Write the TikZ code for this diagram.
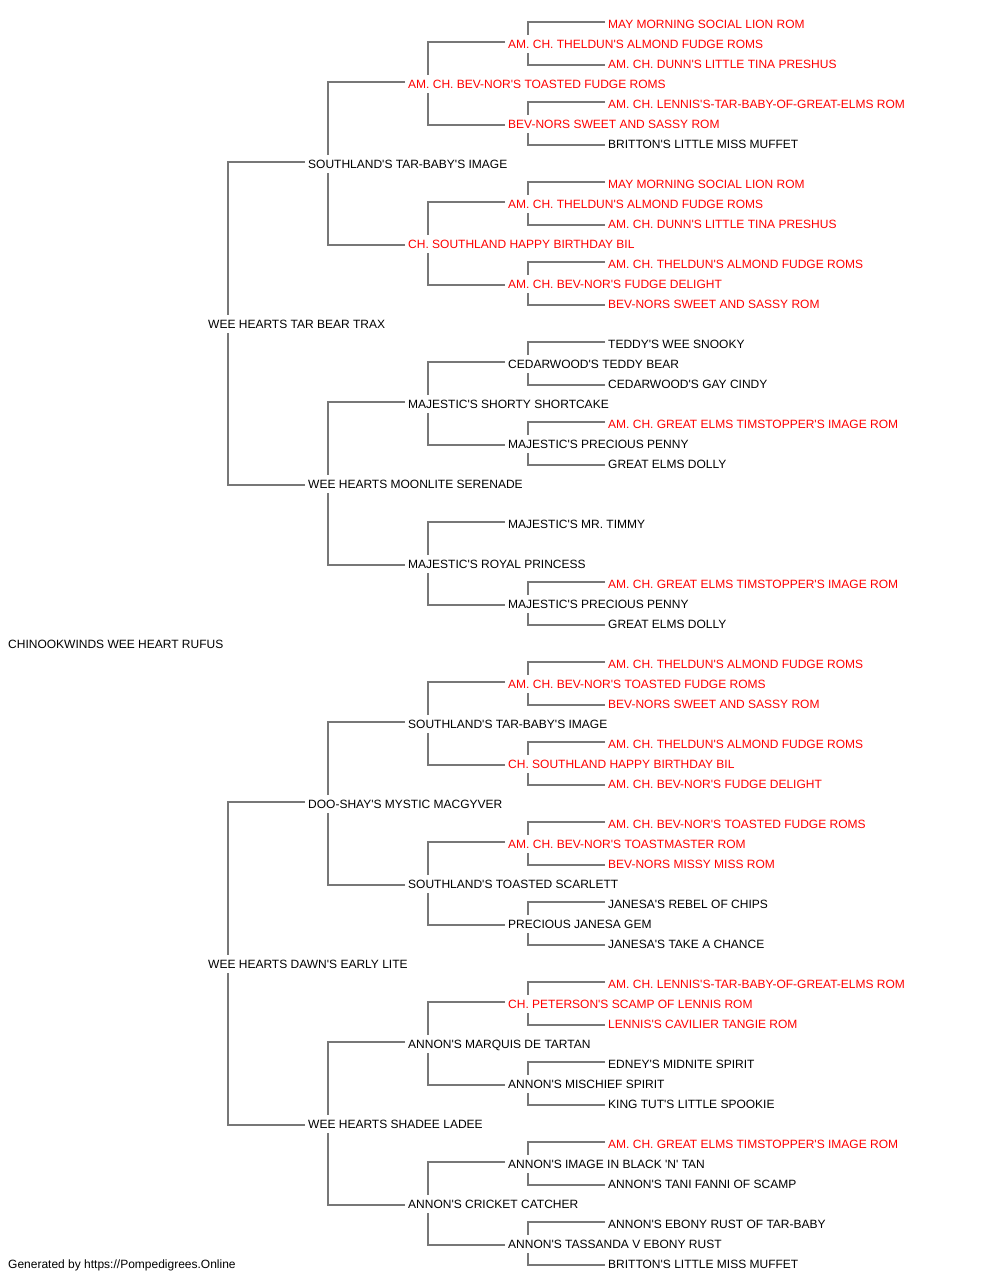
\documentclass[tikz,border=0pt]{standalone}
\usepackage{fontspec}
\setmainfont{Liberation Sans}[Ligatures=TeXOff]
\definecolor{rd}{RGB}{255,0,0}
\definecolor{bk}{RGB}{0,0,0}
\definecolor{lc}{RGB}{119,119,119}
\begin{document}
\begin{tikzpicture}[x=1pt,y=-1pt,
  nm/.style={anchor=base west,inner sep=0pt,font=\fontsize{12}{14}\selectfont},
  ln/.style={draw=lc,line width=1.8pt}]
\useasboundingbox (0,0) rectangle (1000,1280);
\node[nm] (g0-0) at (8,648) {CHINOOKWINDS WEE HEART RUFUS};
\foreach \s/\cl/\tx in {0/bk/WEE HEARTS TAR BEAR TRAX,1/bk/WEE HEARTS DAWN'S EARLY LITE}
  \node[nm,text=\cl] (g1-\s) at (208,{323+640*\s+5}) {\tx};
\foreach \s/\cl/\tx in {0/bk/SOUTHLAND'S TAR-BABY'S IMAGE,1/bk/WEE HEARTS MOONLITE SERENADE,2/bk/DOO-SHAY'S MYSTIC MACGYVER,3/bk/WEE HEARTS SHADEE LADEE}
  \node[nm,text=\cl] (g2-\s) at (308,{163+320*\s+5}) {\tx};
\foreach \s/\cl/\tx in {0/rd/AM. CH. BEV-NOR'S TOASTED FUDGE ROMS,1/rd/CH. SOUTHLAND HAPPY BIRTHDAY BIL,2/bk/MAJESTIC'S SHORTY SHORTCAKE,3/bk/MAJESTIC'S ROYAL PRINCESS,4/bk/SOUTHLAND'S TAR-BABY'S IMAGE,5/bk/SOUTHLAND'S TOASTED SCARLETT,6/bk/ANNON'S MARQUIS DE TARTAN,7/bk/ANNON'S CRICKET CATCHER}
  \node[nm,text=\cl] (g3-\s) at (408,{83+160*\s+5}) {\tx};
\foreach \s/\cl/\tx in {0/rd/AM. CH. THELDUN'S ALMOND FUDGE ROMS,1/rd/BEV-NORS SWEET AND SASSY ROM,2/rd/AM. CH. THELDUN'S ALMOND FUDGE ROMS,3/rd/AM. CH. BEV-NOR'S FUDGE DELIGHT,4/bk/CEDARWOOD'S TEDDY BEAR,5/bk/MAJESTIC'S PRECIOUS PENNY,6/bk/MAJESTIC'S MR. TIMMY,7/bk/MAJESTIC'S PRECIOUS PENNY,8/rd/AM. CH. BEV-NOR'S TOASTED FUDGE ROMS,9/rd/CH. SOUTHLAND HAPPY BIRTHDAY BIL,10/rd/AM. CH. BEV-NOR'S TOASTMASTER ROM,11/bk/PRECIOUS JANESA GEM,12/rd/CH. PETERSON'S SCAMP OF LENNIS ROM,13/bk/ANNON'S MISCHIEF SPIRIT,14/bk/ANNON'S IMAGE IN BLACK 'N' TAN,15/bk/ANNON'S TASSANDA V EBONY RUST}
  \node[nm,text=\cl] (g4-\s) at (508,{43+80*\s+5}) {\tx};
\foreach \s/\cl/\tx in {0/rd/MAY MORNING SOCIAL LION ROM,1/rd/AM. CH. DUNN'S LITTLE TINA PRESHUS,2/rd/AM. CH. LENNIS'S-TAR-BABY-OF-GREAT-ELMS ROM,3/bk/BRITTON'S LITTLE MISS MUFFET,4/rd/MAY MORNING SOCIAL LION ROM,5/rd/AM. CH. DUNN'S LITTLE TINA PRESHUS,6/rd/AM. CH. THELDUN'S ALMOND FUDGE ROMS,7/rd/BEV-NORS SWEET AND SASSY ROM,8/bk/TEDDY'S WEE SNOOKY,9/bk/CEDARWOOD'S GAY CINDY,10/rd/AM. CH. GREAT ELMS TIMSTOPPER'S IMAGE ROM,11/bk/GREAT ELMS DOLLY,14/rd/AM. CH. GREAT ELMS TIMSTOPPER'S IMAGE ROM,15/bk/GREAT ELMS DOLLY,16/rd/AM. CH. THELDUN'S ALMOND FUDGE ROMS,17/rd/BEV-NORS SWEET AND SASSY ROM,18/rd/AM. CH. THELDUN'S ALMOND FUDGE ROMS,19/rd/AM. CH. BEV-NOR'S FUDGE DELIGHT,20/rd/AM. CH. BEV-NOR'S TOASTED FUDGE ROMS,21/rd/BEV-NORS MISSY MISS ROM,22/bk/JANESA'S REBEL OF CHIPS,23/bk/JANESA'S TAKE A CHANCE,24/rd/AM. CH. LENNIS'S-TAR-BABY-OF-GREAT-ELMS ROM,25/rd/LENNIS'S CAVILIER TANGIE ROM,26/bk/EDNEY'S MIDNITE SPIRIT,27/bk/KING TUT'S LITTLE SPOOKIE,28/rd/AM. CH. GREAT ELMS TIMSTOPPER'S IMAGE ROM,29/bk/ANNON'S TANI FANNI OF SCAMP,30/bk/ANNON'S EBONY RUST OF TAR-BABY,31/bk/BRITTON'S LITTLE MISS MUFFET}
  \node[nm,text=\cl] (g5-\s) at (608,{23+40*\s+5}) {\tx};
\node[nm] (foot) at (8,1268) {Generated by https://Pompedigrees.Online};
\foreach \g/\ks in {1/{0,1},2/{0,...,3},3/{0,...,7},4/{0,1,2,3,4,5,7,8,9,10,11,12,13,14,15}} {
  \pgfmathtruncatemacro\h{\g+1}
  \foreach \k in \ks {
    \pgfmathtruncatemacro\a{2*\k}
    \pgfmathtruncatemacro\b{2*\k+1}
    \draw[ln] ([shift={(-3pt,6pt)}]g\h-\a.base west) -| ([shift={(20pt,13pt)}]g\g-\k.base west);
    \draw[ln] ([shift={(-3pt,3pt)}]g\h-\b.base west) -| ([shift={(20pt,-5pt)}]g\g-\k.base west);
  }
}
\end{tikzpicture}
\end{document}
